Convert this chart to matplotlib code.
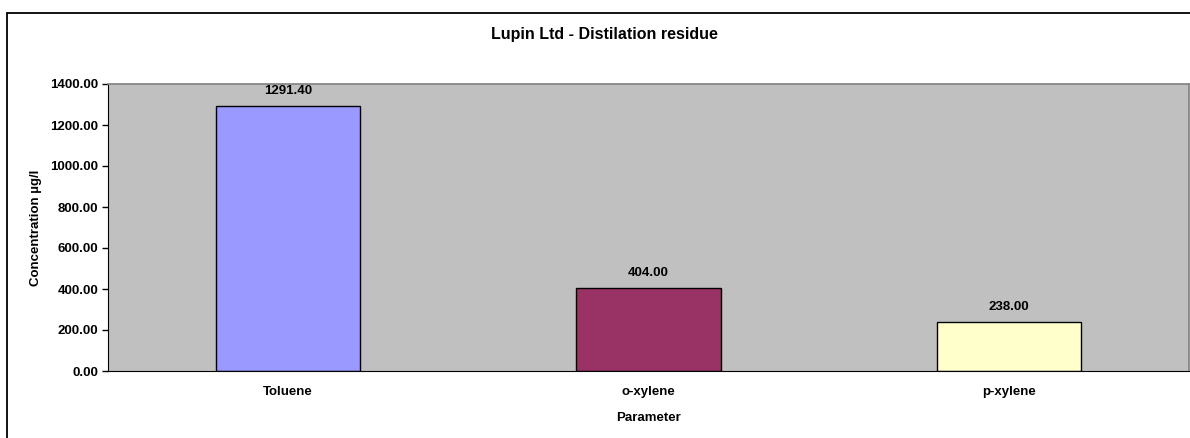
import matplotlib.pyplot as plt
from matplotlib.patches import Rectangle

# data
params = ['Toluene', 'o-xylene', 'p-xylene']
concentration = [1291.40, 404.00, 238.00]
bar_colors = ['#9999FF', '#993366', '#FFFFCC']

plt.rcParams['font.family'] = ['Liberation Sans', 'DejaVu Sans']

fig = plt.figure(figsize=(11.9, 4.38), dpi=100)
ax = fig.add_axes([108 / 1190, 67 / 438, 1081 / 1190, 287 / 438])
ax.set_facecolor('#C0C0C0')

x = list(range(len(params)))
bars = ax.bar(x, concentration, width=0.4, color=bar_colors, edgecolor='black', linewidth=1)

for b, v in zip(bars, concentration):
    ax.text(b.get_x() + b.get_width() / 2, v + 45, f'{v:.2f}', ha='center', va='bottom',
            fontsize=9.5, fontweight='bold')

ax.set_xlim(-0.5, len(params) - 0.5)
ax.set_ylim(0, 1400)
ax.set_yticks(range(0, 1401, 200))
ax.set_yticklabels([f'{t:.2f}' for t in range(0, 1401, 200)], fontsize=9.5, fontweight='bold')
ax.set_xticks(x)
ax.set_xticklabels(params, fontsize=9.5, fontweight='bold')
ax.tick_params(axis='x', length=0, pad=11)
ax.tick_params(axis='y', length=4, width=1, pad=3)

for side in ['top', 'right']:
    ax.spines[side].set_color('#808080')
    ax.spines[side].set_linewidth(1.2)
ax.spines['left'].set_color('black')
ax.spines['bottom'].set_color('black')

ax.set_xlabel('Parameter', fontsize=9.5, fontweight='bold', labelpad=10)
ax.set_ylabel('Concentration µg/l', fontsize=9.5, fontweight='bold', labelpad=6)
fig.text(604 / 1190, 1 - 35 / 438, 'Lupin Ltd - Distilation residue', ha='center', va='center',
         fontsize=11.5, fontweight='bold')

# outer chart border (only top and left edges visible)
fig.patches.append(Rectangle((7 / 1190, -0.1), 1.2, 1.1 - 13 / 438, transform=fig.transFigure,
                             fill=False, edgecolor='black', linewidth=1.3))

fig.savefig('out.png', dpi=100)
